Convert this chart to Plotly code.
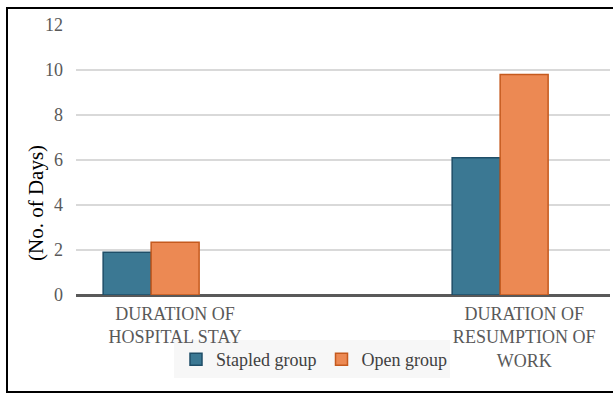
import plotly.graph_objects as go

# Category labels and values (days)
categories = ["DURATION OF<br>HOSPITAL STAY", "DURATION OF<br>RESUMPTION OF<br>WORK"]
stapled_days = [1.9, 6.1]
open_days = [2.35, 9.8]
series_names = ["Stapled group", "Open group"]
y_ticks = [0, 2, 4, 6, 8, 10, 12]
y_title = "(No. of Days)"

W, H = 613, 394
ML, MR, MT, MB = 76, 3, 25, 99
PW, PH = W - ML - MR, H - MT - MB

def px_x(p):
    return (p - ML) / PW

def px_y(p):
    return (H - MB - p) / PH

FONT = "Liberation Serif"
bar_w = 0.1375

fig = go.Figure()
fig.add_trace(go.Bar(
    x=categories, y=stapled_days, name=series_names[0],
    width=bar_w, offset=-1.5 * bar_w,
    marker=dict(color="#3b7893", line=dict(color="#1f4e68", width=1.5)),
))
fig.add_trace(go.Bar(
    x=categories, y=open_days, name=series_names[1],
    width=bar_w, offset=-0.5 * bar_w,
    marker=dict(color="#ec8953", line=dict(color="#c55a1e", width=1.5)),
))

shapes = [
    # legend background panel
    dict(type="rect", xref="paper", yref="paper",
         x0=px_x(174), x1=px_x(450), y0=px_y(378), y1=px_y(340),
         fillcolor="#f7f7f7", line=dict(width=0), layer="below"),
    # outer frame
    dict(type="rect", xref="paper", yref="paper",
         x0=px_x(7), x1=px_x(640), y0=px_y(392), y1=px_y(8),
         fillcolor="rgba(0,0,0,0)", line=dict(color="black", width=2)),
]

annotations = [
    dict(text=y_title, textangle=-90, showarrow=False,
         xref="paper", yref="paper", x=px_x(36), y=px_y(203),
         xanchor="center", yanchor="middle",
         font=dict(family=FONT, size=21, color="black")),
]

fig.update_layout(
    width=W, height=H,
    margin=dict(l=ML, r=MR, t=MT, b=MB),
    paper_bgcolor="white", plot_bgcolor="white",
    barmode="overlay",
    font=dict(family=FONT, size=18, color="#595959"),
    showlegend=True,
    legend=dict(orientation="h", x=px_x(314), xanchor="center",
                y=px_y(341), yanchor="top",
                bgcolor="rgba(0,0,0,0)",
                font=dict(family=FONT, size=18, color="#404040"),
                traceorder="normal"),
    shapes=shapes,
    annotations=annotations,
    xaxis=dict(type="category", range=[-0.284, 1.246],
               showgrid=False, showline=False, ticks="",
               tickfont=dict(family=FONT, size=18, color="#595959"),
               ticklabelstandoff=6),
    yaxis=dict(range=[0, 12], tickvals=y_ticks,
               showgrid=True, gridcolor="#d9d9d9", gridwidth=1.5,
               zeroline=True, zerolinecolor="#595959", zerolinewidth=3,
               showline=False, ticks="",
               tickfont=dict(family=FONT, size=18, color="#595959"),
               ticklabelstandoff=12),
)

fig.write_html("out.html")
